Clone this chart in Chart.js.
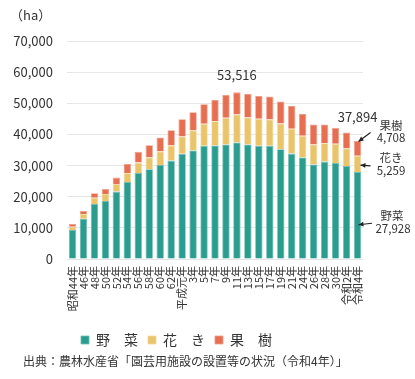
<!DOCTYPE html>
<html><head><meta charset="utf-8">
<script src="https://cdn.jsdelivr.net/npm/chart.js@4"></script>
<style>
html,body{margin:0;padding:0;background:#fff;}
#wrap{position:relative;width:415px;height:379px;}
#source{position:absolute;left:23px;top:353px;font:12px "Noto Sans CJK JP","Noto Sans",sans-serif;color:#333;white-space:nowrap;line-height:16px;}
</style></head><body>
<div id="wrap"><canvas id="c" width="415" height="379"></canvas><div id="source">出典：農林水産省「園芸用施設の設置等の状況（令和4年）」</div></div>
<script>
const categories = ['昭和44年','46年','48年','50年','52年','54年','56年','58年','60年','62年','平成元年','3年','5年','7年','9年','11年','13年','15年','17年','19年','21年','24年','26年','28年','30年','令和2年','令和4年'];
const vegetables = [9300,12960,17680,18650,21640,24750,27650,28840,30220,31600,33760,34820,36330,36430,36750,37390,36750,36330,36330,35270,33850,32570,30320,31280,30860,29900,27928];
const flowers    = [1080,1510,2020,2250,2460,2800,3310,3730,4280,4830,5560,6430,7070,7840,8580,9000,8680,8680,8460,8230,7950,6970,6430,5920,6110,5560,5259];
const fruits     = [870,960,1420,1600,2040,2990,3440,3980,4500,4950,5580,5910,6330,6750,7300,7126,7620,7290,7390,7070,7290,6980,6430,5980,5150,5140,4708];
const seriesNames = ['野　菜','花　き','果　樹'];
const shortNames = ['野菜','花き','果樹'];
const labeledTotalIndex = [15, 26];
const labeledTotals = ['53,516','37,894'];
const yMax = 70000, yStep = 10000;
const unitLabel = '（ha）';

const FONT = '"Noto Sans CJK JP","Noto Sans",sans-serif';
const TXT = '#333';

function arrow(ctx, x1, y1, x2, y2) {
  ctx.beginPath(); ctx.moveTo(x1, y1); ctx.lineTo(x2, y2); ctx.stroke();
  const a = Math.atan2(y2 - y1, x2 - x1), L = 5.5, w = 0.45;
  ctx.beginPath(); ctx.moveTo(x2, y2);
  ctx.lineTo(x2 - L * Math.cos(a - w), y2 - L * Math.sin(a - w));
  ctx.lineTo(x2 - L * Math.cos(a + w), y2 - L * Math.sin(a + w));
  ctx.closePath(); ctx.fill();
}

const annot = {
  id: 'annot',
  afterLayout(chart) {
    const lg = chart.legend;
    if (lg) { lg.left -= 5; lg.right -= 5; }
  },
  afterDatasetsDraw(chart) {
    const ctx = chart.ctx, ca = chart.chartArea;
    ctx.save();
    ctx.fillStyle = TXT;
    ctx.font = '13px ' + FONT;
    ctx.textAlign = 'left'; ctx.textBaseline = 'middle';
    ctx.fillText(unitLabel, 10, ca.top - 26);

    // totals
    ctx.textAlign = 'center';
    const topMeta = chart.getDatasetMeta(2);
    labeledTotalIndex.forEach((idx, k) => {
      const el = topMeta.data[idx];
      const off = k === 0 ? 17 : 24;
      ctx.fillText(labeledTotals[k], el.x, el.y - off);
    });

    // right-side notes for last bar
    const last = categories.length - 1;
    const g = chart.getDatasetMeta(0).data[last];
    const f = chart.getDatasetMeta(1).data[last];
    const r = chart.getDatasetMeta(2).data[last];
    const tx = ca.right + 28;
    ctx.font = '11.5px ' + FONT;
    ctx.fillStyle = TXT;
    ctx.strokeStyle = '#222';
    ctx.lineWidth = 1.2;
    // fruit
    ctx.fillText(shortNames[2], tx, r.y - 15);
    ctx.fillText(fruits[last].toLocaleString('en-US'), tx, r.y - 3.5);
    ctx.fillStyle = '#222';
    arrow(ctx, r.x + 13, r.y - 8.5, r.x + 1, r.y + 0.5);
    // flowers
    const fm = (f.y + f.base) / 2;
    ctx.fillStyle = TXT;
    ctx.fillText(shortNames[1], tx, fm - 6);
    ctx.fillText(flowers[last].toLocaleString('en-US'), tx, fm + 6.5);
    ctx.fillStyle = '#222';
    arrow(ctx, r.x + 13, fm + 2, r.x + 3, fm + 1.3);
    // vegetables
    const gt = g.y + 0.61 * (g.base - g.y);
    ctx.fillStyle = TXT;
    ctx.fillText(shortNames[0], tx + 1, gt - 8.7);
    ctx.fillText(vegetables[last].toLocaleString('en-US'), tx + 2, gt + 3.8);
    ctx.fillStyle = '#222';
    arrow(ctx, r.x + 14.5, gt - 1.5, r.x + 1, gt);
    ctx.restore();
  }
};

const colors = ['#2a9d8f', '#e9c46a', '#e76f51'];
const borders = ['#6dbcb2', '#f1d89a', '#ef9c87'];
const series = [vegetables, flowers, fruits];

new Chart(document.getElementById('c'), {
  type: 'bar',
  data: {
    labels: categories,
    datasets: series.map((d, i) => ({
      label: seriesNames[i],
      data: d,
      backgroundColor: colors[i],
      borderColor: borders[i],
      borderWidth: 0.8,
      categoryPercentage: 0.8,
      barPercentage: 0.84
    }))
  },
  options: {
    responsive: false,
    animation: false,
    devicePixelRatio: 1,
    layout: { padding: { left: 0, right: 52, top: 41, bottom: 22 } },
    scales: {
      x: {
        stacked: true,
        grid: { display: false, drawTicks: false },
        border: { display: false },
        ticks: {
          autoSkip: false, maxRotation: 90, minRotation: 90, padding: 7,
          color: TXT, font: { family: FONT, size: 11 }
        },
        afterFit(s) { s.height = 64; }
      },
      y: {
        stacked: true,
        min: 0, max: yMax,
        grid: { color: '#e6e6e6', lineWidth: 1, drawTicks: false },
        border: { display: false },
        ticks: {
          stepSize: yStep, padding: 14, color: TXT,
          font: { family: FONT, size: 13 },
          callback: v => v.toLocaleString('en-US')
        },
        afterFit(s) { s.width = 67; }
      }
    },
    plugins: {
      legend: {
        position: 'bottom',
        labels: {
          boxWidth: 8, boxHeight: 8, padding: 10,
          color: TXT, font: { family: FONT, size: 14 }
        }
      },
      tooltip: { enabled: false }
    }
  },
  plugins: [annot]
});
</script>
</body></html>
